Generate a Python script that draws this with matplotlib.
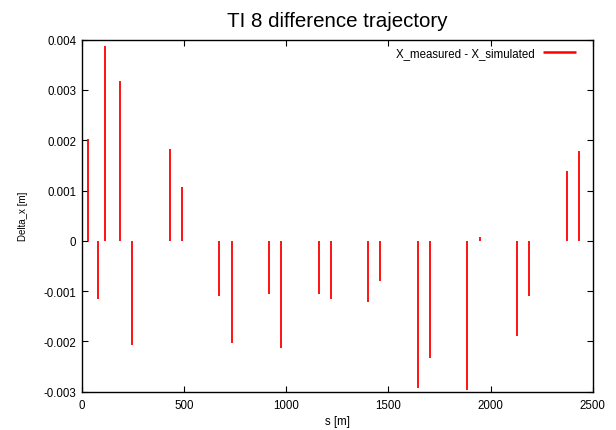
import matplotlib
matplotlib.use("Agg")
import matplotlib.pyplot as plt

plt.rcParams['font.family'] = ['Liberation Sans', 'DejaVu Sans']

s_pos = [0, 28, 77, 113, 188, 247, 430, 490, 672, 732, 917, 976, 1158, 1217,
         1400, 1461, 1643, 1704, 1887, 1946, 2129, 2190, 2373, 2431]
delta_x = [0.00036, 0.00203, -0.00115, 0.00388, 0.00318, -0.00208, 0.00183, 0.00108,
           -0.00110, -0.00204, -0.00106, -0.00213, -0.00105, -0.00116,
           -0.00121, -0.00080, -0.00292, -0.00233, -0.00297, 0.00007,
           -0.00189, -0.00109, 0.00138, 0.00179]

xticks = [0, 500, 1000, 1500, 2000, 2500]
yticks = [-0.003, -0.002, -0.001, 0, 0.001, 0.002, 0.003, 0.004]
yticklabels = ['-0.003', '-0.002', '-0.001', '0', '0.001', '0.002', '0.003', '0.004']

fig = plt.figure(figsize=(6.16, 4.31), dpi=100)
ax = fig.add_axes([0.1331, 0.0889, 0.8291, 0.8167])

ax.vlines(s_pos, 0, delta_x, colors='#ff0000', linewidth=1.3,
          label='X_measured - X_simulated')

ax.set_xlim(0, 2500)
ax.set_ylim(-0.003, 0.004)
ax.set_xticks(xticks)
ax.set_xticklabels([str(v) for v in xticks])
ax.set_yticks(yticks)
ax.set_yticklabels(yticklabels)
ax.tick_params(direction='in', top=True, right=True, length=4.5, width=0.8,
               labelsize=8.3)
ax.tick_params(axis='x', pad=5)
ax.tick_params(axis='y', pad=4)
for sp in ax.spines.values():
    sp.set_linewidth(1.0)

ax.set_xlabel('s [m]', fontsize=8.3, labelpad=3)
ax.set_ylabel('Delta_x [m]', fontsize=7, labelpad=11)
ax.set_title('TI 8 difference trajectory', fontsize=14.8, pad=10)

leg = ax.legend(loc='upper right', frameon=False, fontsize=8.3, markerfirst=False,
                handlelength=2.8, borderaxespad=0.2, borderpad=0.4,
                handletextpad=0.7)
leg.set_bbox_to_anchor((0.98, 1.0), transform=ax.transAxes)
for h in leg.legend_handles:
    h.set_linewidth(1.8)

fig.savefig('out.png', dpi=100)
